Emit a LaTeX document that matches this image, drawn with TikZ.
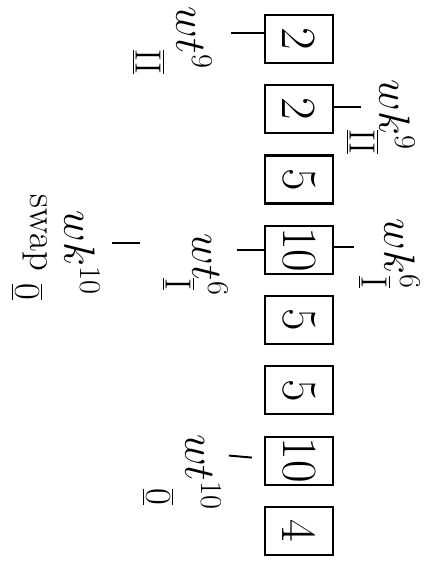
\documentclass[tikz,border=0pt]{standalone}
\usetikzlibrary{positioning}

\begin{document}
\begin{tikzpicture}[
  x=0.2mm, y=0.2mm, rotate=-90, transform shape,
  cell/.style={draw, line width=1.2pt, minimum width=9.6mm, minimum height=13.6mm,
    inner sep=0pt, font=\fontsize{28}{30}\selectfont},
  var/.style={inner sep=0pt, font=\fontsize{24}{26}\selectfont},
  stage/.style={inner sep=0pt, font=\fontsize{22}{24}\selectfont},
  ptr/.style={line width=1.1pt}
]
\useasboundingbox (0,0) rectangle (561,433);

% the array
\node[cell] (b1) at (39,299) {2};
\node[cell, right=4.03mm of b1] (b2) {2};
\node[cell, right=4.03mm of b2] (b3) {5};
\node[cell, right=4.03mm of b3] (b4) {10};
\node[cell, right=4.03mm of b4] (b5) {5};
\node[cell, right=4.03mm of b5] (b6) {5};
\node[cell, right=4.03mm of b6] (b7) {10};
\node[cell, right=4.03mm of b7] (b8) {4};

% pointers
\draw[ptr] ([xshift=-1.2mm]b1.south) -- ++(0,-33);
\draw[ptr] ([xshift=-0.4mm]b2.north) -- ++(0,27);
\draw[ptr] (b4.south) -- ++(0,-27);
\draw[ptr] ([xshift=-0.6mm]b4.north) -- ++(0,20);
\draw[ptr] ([shift={(-3,-12)}]b7.south) -- ++(-2,-23);
\draw[ptr] (243,140) -- (243,112);

% labels
\node[var] (wt9) at (38,194) {$wt^{9}$};
\node[stage] (st9a) at (62,148) {$\overline{\underline{\mathrm{II}}}$};
\node[var] (wk9) at (115,397) {$wk^{9}$};
\node[stage] (st9b) at (142,362) {$\overline{\underline{\mathrm{II}}}$};
\node[var] (wt6) at (265,210) {$wt^{6}$};
\node[stage] (st6a) at (284,178) {$\overline{\underline{\mathrm{I}}}$};
\node[var] (wk6) at (254,402) {$wk^{6}$};
\node[stage] (st6b) at (282,374) {$\overline{\underline{\mathrm{I}}}$};
\node[var] (wk10) at (253,82) {$wk^{10}$};
\node[var, font=\fontsize{22}{24}\selectfont] (swap) at (233,35) {swap};
\node[stage] (st10a) at (292,27) {$\overline{\underline{0}}$};
\node[var] (wt10) at (472,203) {$wt^{10}$};
\node[stage] (st10b) at (497,158) {$\overline{\underline{0}}$};
\end{tikzpicture}
\end{document}
